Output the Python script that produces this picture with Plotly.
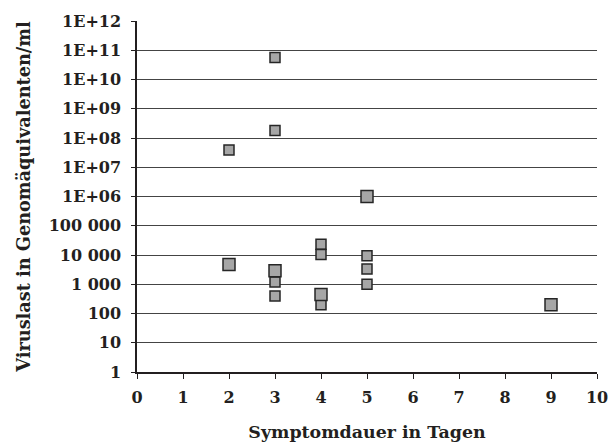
import plotly.graph_objects as go

# Data
days_a = [3, 3, 2, 3, 3, 4, 4, 4, 5, 5, 5]
load_a = [5.6e10, 1.8e8, 3.9e7, 1200, 400, 23500, 10500, 200, 9500, 3300, 1000]
days_b = [2, 3, 4, 5, 9]
load_b = [4700, 2900, 450, 1e6, 200]

y_tickvals = [1, 10, 100, 1e3, 1e4, 1e5, 1e6, 1e7, 1e8, 1e9, 1e10, 1e11, 1e12]
y_ticktext = ["1", "10", "100", "1 000", "10 000", "100 000", "1E+06", "1E+07",
              "1E+08", "1E+09", "1E+10", "1E+11", "1E+12"]
x_tickvals = list(range(0, 11))
x_ticktext = [str(v) for v in x_tickvals]

font_family = "DejaVu Serif"

fig = go.Figure()
fig.add_trace(go.Scatter(
    x=days_a, y=load_a, mode="markers",
    marker=dict(symbol="square", size=10, color="#a6a6a6",
                line=dict(color="#262626", width=1.5)),
    showlegend=False, cliponaxis=False))
fig.add_trace(go.Scatter(
    x=days_b, y=load_b, mode="markers",
    marker=dict(symbol="square", size=12, color="#a6a6a6",
                line=dict(color="#262626", width=1.5)),
    showlegend=False, cliponaxis=False))

fig.update_layout(
    width=611, height=442,
    margin=dict(l=137, r=14, t=21, b=70, autoexpand=False),
    paper_bgcolor="white", plot_bgcolor="white",
    font=dict(family=font_family, size=16, color="#231f20"),
)
fig.update_xaxes(
    range=[0, 10], tickvals=x_tickvals,
    ticktext=["<b>%s</b>" % t for t in x_ticktext],
    ticks="outside", ticklen=5, tickcolor="#231f20", tickwidth=1,
    ticklabelstandoff=5,
    showline=True, linecolor="#231f20", linewidth=1.5,
    showgrid=False, zeroline=False, automargin=False,
    tickfont=dict(family=font_family, size=16),
    title=dict(text="<b>Symptomdauer in Tagen</b>", standoff=20,
               font=dict(family=font_family, size=17.4)),
)
fig.update_yaxes(
    type="log", range=[0, 12], tickvals=y_tickvals,
    ticktext=["<b>%s</b>" % t for t in y_ticktext],
    ticks="outside", ticklen=4, tickcolor="#231f20", tickwidth=1,
    ticklabelstandoff=7,
    showline=True, linecolor="#231f20", linewidth=1.5,
    showgrid=True, gridcolor="#444444", gridwidth=1,
    zeroline=False, automargin=False,
    tickfont=dict(family=font_family, size=16),
    title=dict(text="<b>Viruslast in Genomäquivalenten/ml</b>", standoff=13,
               font=dict(family=font_family, size=17.7)),
)

fig.write_html(
    "out.html",
    config={"displayModeBar": False},
    post_script="document.body.style.margin='0';document.body.style.overflow='hidden';",
)
